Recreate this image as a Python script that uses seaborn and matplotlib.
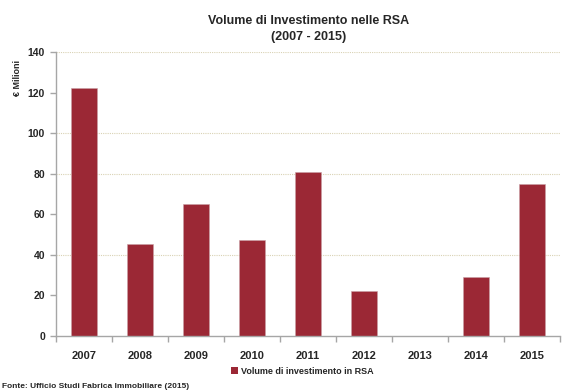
import matplotlib
matplotlib.use("Agg")
import matplotlib.pyplot as plt
import seaborn as sns
import pandas as pd
from matplotlib.patches import Patch
from matplotlib.ticker import FixedLocator

years = ["2007", "2008", "2009", "2010", "2011", "2012", "2013", "2014", "2015"]
volumes = [122.2, 45.3, 64.9, 47.1, 81.0, 22.4, 0.0, 29.3, 75.0]
y_ticks = [0, 20, 40, 60, 80, 100, 120, 140]
grid_levels = [40, 80, 100, 140]

series_name = "Volume di investimento in RSA"
title_text = "Volume di Investimento nelle RSA\n(2007 - 2015)"
y_label = "€ Milioni"
source_text = "Fonte: Ufficio Studi Fabrica Immobiliare (2015)"

bar_color = "#9B2835"

sns.set_theme(style="white")
plt.rcParams["font.family"] = ["Liberation Sans", "DejaVu Sans"]

df = pd.DataFrame({"anno": years, "volume": volumes})

fig = plt.figure(figsize=(5.65, 3.92), dpi=100)
ax = fig.add_axes([56 / 565, (392 - 336) / 392, (560 - 56) / 565, (336 - 52) / 392])

# dotted horizontal guides
for g in grid_levels:
    ax.axhline(g, color="#D9D2B4", lw=0.8, ls=(0, (1, 1)), zorder=0)

sns.barplot(data=df, x="anno", y="volume", color=bar_color, width=0.48,
            saturation=1, ax=ax, zorder=2, edgecolor="#C9A0A6", linewidth=0.4)

ax.set_ylim(0, 140)
ax.set_yticks(y_ticks)
ax.set_xlim(-0.5, len(years) - 0.5)
ax.set_xlabel("")
ax.set_ylabel("")

for side in ["top", "right"]:
    ax.spines[side].set_visible(False)
for side in ["left", "bottom"]:
    ax.spines[side].set_color("#A6A6A6")
    ax.spines[side].set_linewidth(1.0)

ax.tick_params(axis="y", which="major", left=True, length=4, width=1,
               color="#A6A6A6", labelsize=7.5, pad=4)
ax.tick_params(axis="x", which="major", bottom=False, labelsize=8, pad=5)
# tick marks sit between the year categories
ax.xaxis.set_minor_locator(FixedLocator([i + 0.5 for i in range(-1, len(years))]))
ax.tick_params(axis="x", which="minor", bottom=True, length=4, width=1,
               color="#A6A6A6")
for lbl in ax.get_xticklabels() + ax.get_yticklabels():
    lbl.set_fontweight("bold")

fig.text(309 / 565, 1 - 29 / 392, title_text, ha="center", va="center",
         fontsize=9, fontweight="bold", linespacing=1.35)
fig.text(18 / 565, 1 - 78 / 392, y_label, rotation=90, ha="center",
         va="center", fontsize=6.5, fontweight="bold")

handle = Patch(facecolor=bar_color, edgecolor="none")
fig.legend([handle], [series_name], loc="center", bbox_to_anchor=(302 / 565, 1 - 371 / 392),
           frameon=False, handlelength=0.8, handleheight=0.8,
           handletextpad=0.3, prop={"weight": "bold", "size": 6.5})

fig.text(2 / 565, 1 - 386 / 392, source_text, ha="left", va="center",
         fontsize=6, fontweight="bold")

fig.savefig("out.png", dpi=100, facecolor="white")
